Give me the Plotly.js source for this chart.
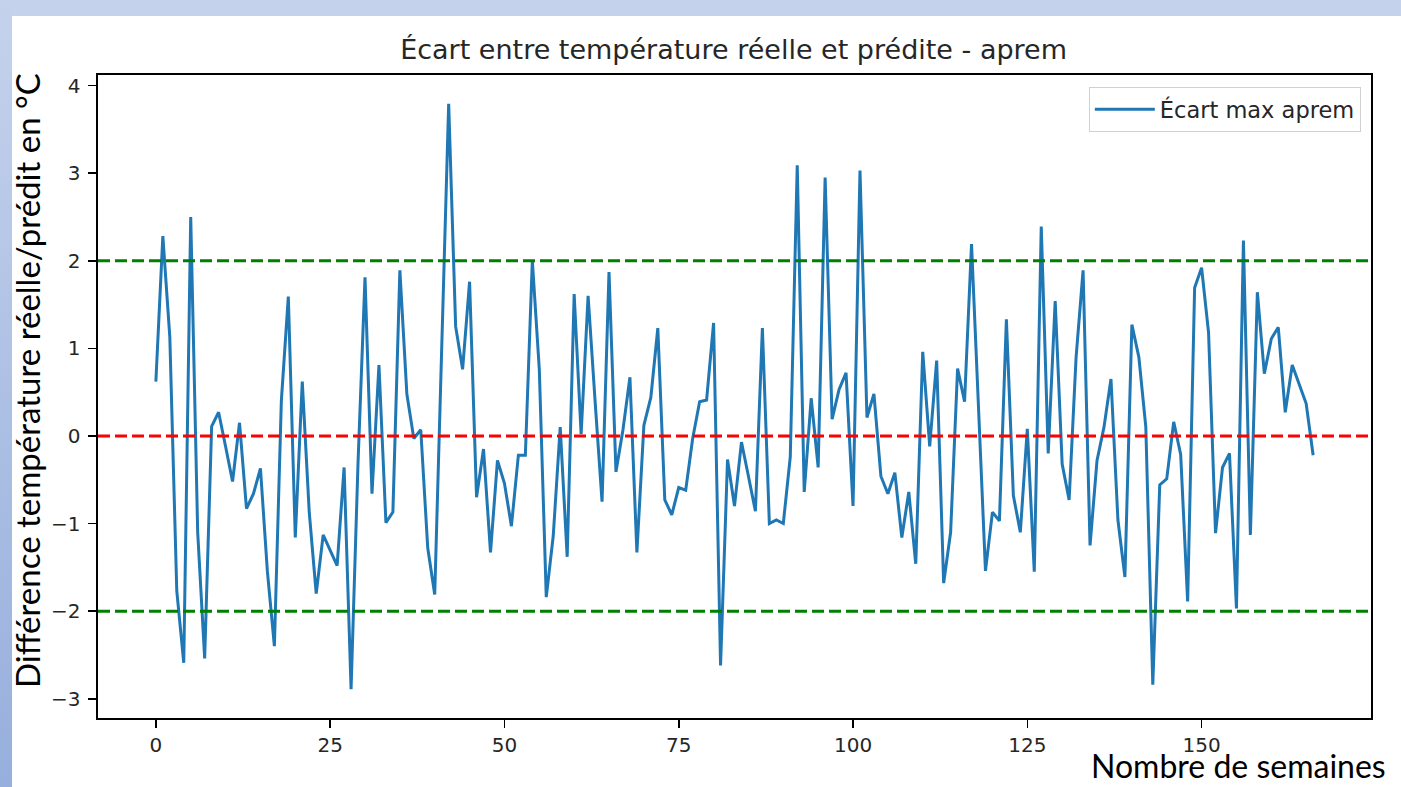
<!DOCTYPE html>
<html>
<head>
<meta charset="utf-8">
<script src="https://cdn.plot.ly/plotly-3.0.1.min.js"></script>
<style>
  html, body { margin: 0; padding: 0; background: #ffffff; }
  #page { position: relative; width: 1401px; height: 787px; overflow: hidden; background: #ffffff; }
  #bandTop { position: absolute; left: 0; top: 0; width: 1401px; height: 16px; background: #c4d2ec; }
  #bandLeft { position: absolute; left: 0; top: 0; width: 12px; height: 787px; background: linear-gradient(to bottom, #c4d2ec, #97afdd); }
  #chart { position: absolute; left: 0; top: 0; width: 1401px; height: 787px; }
</style>
</head>
<body>
<div id="page">
  <div id="bandTop"></div>
  <div id="bandLeft"></div>
  <div id="chart"></div>
</div>
<script>
// ---- Data ----
const weeks = Array.from({length: 167}, (_, i) => i); // week index 0..166
const ecartMaxAprem = [
  0.62, 2.28, 1.13, -1.77, -2.59, 2.50, -1.10, -2.54, 0.11, 0.27,
  -0.12, -0.52, 0.15, -0.83, -0.66, -0.37, -1.55, -2.40, 0.40, 1.59,
  -1.16, 0.62, -0.87, -1.80, -1.13, -1.30, -1.48, -0.36, -2.89, -0.30,
  1.81, -0.66, 0.81, -0.99, -0.87, 1.89, 0.48, -0.03, 0.07, -1.28,
  -1.81, 1.00, 3.79, 1.25, 0.76, 1.76, -0.70, -0.15, -1.33, -0.28,
  -0.54, -1.03, -0.22, -0.22, 2.00, 0.76, -1.84, -1.14, 0.10, -1.38,
  1.62, 0.02, 1.60, 0.40, -0.75, 1.87, -0.41, 0.07, 0.67, -1.33,
  0.12, 0.44, 1.23, -0.73, -0.90, -0.59, -0.62, -0.03, 0.39, 0.41,
  1.29, -2.62, -0.27, -0.80, -0.07, -0.46, -0.86, 1.23, -1.00, -0.96,
  -1.00, -0.24, 3.09, -0.64, 0.43, -0.36, 2.95, 0.19, 0.53, 0.72,
  -0.80, 3.03, 0.21, 0.48, -0.46, -0.66, -0.42, -1.16, -0.64, -1.46,
  0.96, -0.12, 0.86, -1.68, -1.10, 0.77, 0.39, 2.19, 0.30, -1.54,
  -0.87, -0.97, 1.33, -0.68, -1.10, 0.08, -1.55, 2.39, -0.20, 1.54,
  -0.32, -0.73, 0.90, 1.89, -1.25, -0.28, 0.10, 0.65, -0.96, -1.61,
  1.27, 0.90, 0.10, -2.84, -0.56, -0.49, 0.16, -0.21, -1.89, 1.69,
  1.92, 1.18, -1.11, -0.36, -0.20, -1.97, 2.23, -1.13, 1.64, 0.71,
  1.11, 1.24, 0.27, 0.81, 0.59, 0.37, -0.22
];
const zeroLine = [0];
const limitLines = [2, -2];
const xTicks = [0, 25, 50, 75, 100, 125, 150];
const yTicks = [-3, -2, -1, 0, 1, 2, 3, 4];

const titleText = "Écart entre température réelle et prédite - aprem";
const seriesName = "Écart max aprem";
const yTitle = "Différence température réelle/prédit en °C";
const xTitle = "Nombre de semaines";

// ---- Chart ----
const tickFont = {family: "DejaVu Sans", size: 20, color: "#262626"};

const shapes = [];
limitLines.forEach(v => shapes.push({
  type: "line", xref: "paper", x0: 0, x1: 1, yref: "y", y0: v, y1: v,
  line: {color: "green", width: 3, dash: "12px,5px"}, layer: "above"
}));
zeroLine.forEach(v => shapes.push({
  type: "line", xref: "paper", x0: 0, x1: 1, yref: "y", y0: v, y1: v,
  line: {color: "red", width: 3, dash: "12px,5px"}, layer: "above"
}));

const trace = {
  x: weeks, y: ecartMaxAprem, type: "scatter", mode: "lines",
  name: seriesName, line: {color: "#1f77b4", width: 3},
  showlegend: true
};

const layout = {
  width: 1401, height: 787,
  paper_bgcolor: "rgba(0,0,0,0)", plot_bgcolor: "#ffffff",
  margin: {l: 98, r: 30, t: 75, b: 69, pad: 0},
  title: {text: titleText, font: {family: "DejaVu Sans", size: 27, color: "#262626"},
          x: 0.5236, xanchor: "center", y: 1 - 50/787, yanchor: "middle"},
  xaxis: {
    range: [-8.3, 174.3], tickvals: xTicks, ticktext: xTicks.map(String),
    showgrid: false, zeroline: false, showline: true, mirror: true,
    linecolor: "#000000", linewidth: 1.6, ticks: "outside", ticklen: 8, tickwidth: 1.6,
    tickcolor: "#000000", tickfont: tickFont
  },
  yaxis: {
    range: [-3.22, 4.12], tickvals: yTicks, ticktext: yTicks.map(v => v < 0 ? "\u2212" + Math.abs(v) : String(v)),
    showgrid: false, zeroline: false, showline: true, mirror: true,
    linecolor: "#000000", linewidth: 1.6, ticks: "outside", ticklen: 8, tickwidth: 1.6,
    tickcolor: "#000000", tickfont: tickFont, ticklabelstandoff: 4
  },
  showlegend: true,
  legend: {x: 0.992, xanchor: "right", y: 0.981, yanchor: "top",
           bgcolor: "rgba(255,255,255,0.8)", bordercolor: "#d0d0d0", borderwidth: 1,
           itemwidth: 60,
           font: {family: "DejaVu Sans", size: 22.5, color: "#262626"}},
  shapes: shapes,
  annotations: [
    {text: yTitle, xref: "paper", yref: "paper", x: (27 - 98) / 1273, y: (718 - 381) / 643,
     xanchor: "center", yanchor: "middle", textangle: -90, showarrow: false,
     font: {family: "Lato", size: 33, color: "#000000"}},
    {text: xTitle, xref: "paper", yref: "paper", x: (1238 - 98) / 1273, y: (718 - 765) / 643,
     xanchor: "center", yanchor: "middle", showarrow: false,
     font: {family: "Lato", size: 32, color: "#000000"}}
  ]
};

Plotly.newPlot("chart", [trace], layout, {displayModeBar: false, staticPlot: true});
</script>
</body>
</html>
